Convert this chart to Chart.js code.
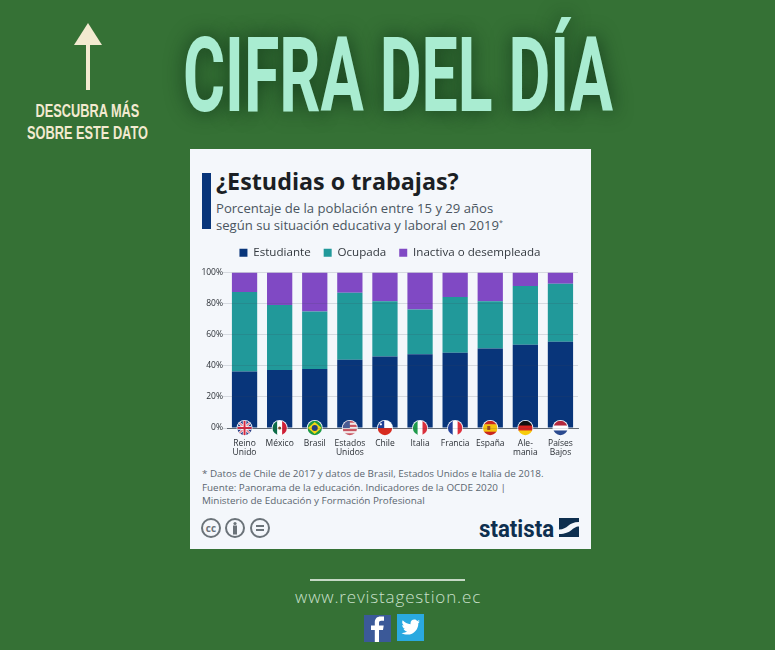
<!DOCTYPE html>
<html>
<head>
<meta charset="utf-8">
<title>Cifra del día</title>
<script src="https://cdn.jsdelivr.net/npm/chart.js"></script>
<style>
html, body { margin: 0; padding: 0; }
body { width: 775px; height: 650px; background: #357135; overflow: hidden; position: relative; font-family: "Open Sans", sans-serif; }
.t { position: absolute; white-space: nowrap; line-height: 1; }
.box { position: absolute; }
.fit { transform-origin: 0 0; }
#card { left: 190px; top: 149px; width: 401px; height: 400px; background: #f4f7fb; }
#big { left: 183px; top: 24px; font-family: Roboto, sans-serif; font-weight: 700; font-size: 104px; color: #a9ecd1; text-shadow: 0 0 26px rgba(10,40,20,.75); }
.more { font-family: "Liberation Sans", sans-serif; font-weight: 700; color: #f3ead0; font-size: 19px; line-height: 22px; text-align: center; }
#chart { position: absolute; left: 190px; top: 233px; }
.sub { left: 216px; font-size: 13.1px; color: #4a5560; }
.note { left: 202px; font-size: 9.85px; color: #5b6670; }
</style>
</head>
<body>
<div class="box" id="card"></div>

<svg class="box" style="left:60px;top:15px" width="60" height="80">
  <polygon points="28,8 42,30 14,30" fill="#f3ead0"/>
  <rect x="26" y="30" width="4" height="45" fill="#f3ead0"/>
</svg>
<div class="t more fit" data-w="121" style="left:27px;top:100px">DESCUBRA MÁS<br>SOBRE ESTE DATO</div>
<div class="t fit" data-w="430" id="big">CIFRA DEL DÍA</div>

<div class="box" style="left:202px;top:173px;width:9px;height:56px;background:#08357a"></div>
<div class="t" style="left:216px;top:170px;font-size:23.3px;font-weight:700;color:#1b1f24">¿Estudias o trabajas?</div>
<div class="t sub" style="top:202px">Porcentaje de la población entre 15 y 29 años</div>
<div class="t sub" style="top:219px">según su situación educativa y laboral en 2019<sup style="font-size:7px;line-height:0">*</sup></div>

<canvas id="chart" width="400" height="229"></canvas>

<div class="t note" style="top:468.600px">* Datos de Chile de 2017 y datos de Brasil, Estados Unidos e Italia de 2018.</div>
<div class="t note" style="top:482.500px">Fuente: Panorama de la educación. Indicadores de la OCDE 2020 |</div>
<div class="t note" style="top:496px">Ministerio de Educación y Formación Profesional</div>

<svg class="box" style="left:200px;top:517px" width="72" height="22" fill="none" stroke="#6b7379" stroke-width="2">
  <circle cx="11" cy="11" r="9"/>
  <text x="11" y="14.5" font-size="10" font-weight="700" text-anchor="middle" fill="#6b7379" stroke="none" font-family="Open Sans">cc</text>
  <circle cx="35" cy="11" r="9"/>
  <circle cx="35" cy="6.5" r="1.6" fill="#6b7379" stroke="none"/>
  <rect x="33" y="8.5" width="4" height="9" fill="#6b7379" stroke="none"/>
  <circle cx="60" cy="11" r="9"/>
  <path d="M56 9h8M56 13h8"/>
</svg>

<div class="t fit" data-w="75" style="left:479px;top:517px;font-family:Roboto,sans-serif;font-weight:700;font-size:24px;color:#0e2f4f">statista</div>
<svg class="box" style="left:559px;top:518px" width="20" height="19">
  <rect width="20" height="19" fill="#0e2f4f"/>
  <path d="M0 11.500C9 11.500 9 4 20 4V8.500C13 8.500 13 16 0 16z" fill="#f4f7fb"/>
</svg>

<div class="box" style="left:310px;top:579px;width:155px;height:2px;background:#c5d9c5"></div>
<div class="t" style="left:295px;top:588px;font-size:17px;font-weight:300;letter-spacing:.85px;color:#c9e0cb">www.revistagestion.ec</div>
<svg class="box" style="left:364px;top:615px" width="27" height="27">
  <rect width="27" height="27" fill="#3b5998"/>
  <path d="M15 27V15h4l.7-4.5H15V8c0-1.4.6-2.2 2.3-2.2H20V1.6C19 1.5 17.8 1.4 16.5 1.4 13 1.4 10.8 3.5 10.8 7.4v3.1H7V15h3.8v12z" fill="#fff"/>
</svg>
<svg class="box" style="left:397px;top:614px" width="27" height="27">
  <rect width="27" height="27" fill="#2aa9e0"/>
  <path d="M23 7.500c-.7.3-1.400.5-2.200.6.8-.5 1.400-1.200 1.700-2.100-.7.4-1.600.8-2.400.9C19.400 6.100 18.400 5.600 17.300 5.600c-2.100 0-3.800 1.700-3.800 3.800 0 .3 0 .6.100.9C10.400 10.100 7.600 8.600 5.700 6.300c-.3.600-.5 1.200-.5 1.900 0 1.300.7 2.500 1.700 3.200-.6 0-1.200-.2-1.700-.5v.1c0 1.800 1.300 3.400 3 3.700-.3.100-.7.100-1 .1-.2 0-.5 0-.7-.1.500 1.500 1.900 2.600 3.600 2.600-1.300 1-3 1.700-4.700 1.700-.3 0-.6 0-.9-.1 1.700 1.100 3.700 1.700 5.900 1.700 7 0 10.900-5.800 10.900-10.900v-.5c.7-.5 1.300-1.200 1.700-1.900z" fill="#fff"/>
</svg>

<script>
var paises = [['Reino', 'Unido'], 'México', 'Brasil', ['Estados', 'Unidos'], 'Chile', 'Italia', 'Francia', 'España', ['Ale-', 'mania'], ['Países', 'Bajos']];
var estudiante = [36.3, 37.4, 38, 43.9, 46, 47.5, 48.4, 51.2, 53.5, 55.5];
var ocupada = [51.2, 41.7, 37, 43.1, 35.5, 28.8, 35.9, 30.3, 37.9, 37.4];
var inactiva = [12.5, 20.9, 25, 13, 18.5, 23.7, 15.7, 18.5, 8.6, 7.1];
var banderas = ['uk', 'mx', 'br', 'us', 'cl', 'it', 'fr', 'es', 'de', 'nl'];

// condensed display text: no condensed font installed, so squeeze to the measured width
document.querySelectorAll('.fit').forEach(function(el) {
    el.style.transform = 'scaleX(' + (el.dataset.w / el.offsetWidth) + ')';
});

function franjasV(c, x, y, r, cols) {
    var w = 2 * r / cols.length;
    cols.forEach(function(col, i) { c.fillStyle = col; c.fillRect(x - r + i * w, y - r, w + .5, 2 * r); });
}
function franjasH(c, x, y, r, cols) {
    var h = 2 * r / cols.length;
    cols.forEach(function(col, i) { c.fillStyle = col; c.fillRect(x - r, y - r + i * h, 2 * r, h + .5); });
}
function dibujaBandera(c, tipo, x, y, r) {
    if (tipo == 'uk') {
        c.fillStyle = '#2b3f86'; c.fillRect(x - r, y - r, 2 * r, 2 * r);
        c.strokeStyle = '#fff'; c.lineWidth = 2.4;
        c.beginPath(); c.moveTo(x - r, y - r); c.lineTo(x + r, y + r); c.moveTo(x + r, y - r); c.lineTo(x - r, y + r); c.stroke();
        c.strokeStyle = '#d5293f'; c.lineWidth = 1;
        c.stroke();
        c.strokeStyle = '#fff'; c.lineWidth = 3.6;
        c.beginPath(); c.moveTo(x, y - r); c.lineTo(x, y + r); c.moveTo(x - r, y); c.lineTo(x + r, y); c.stroke();
        c.strokeStyle = '#d5293f'; c.lineWidth = 2;
        c.stroke();
    } else if (tipo == 'mx') {
        franjasV(c, x, y, r, ['#0c6b48', '#fff', '#ce1f36']);
        c.fillStyle = '#7a4a20'; c.beginPath(); c.arc(x, y, 1.5, 0, 7); c.fill();
    } else if (tipo == 'br') {
        c.fillStyle = '#1c9a43'; c.fillRect(x - r, y - r, 2 * r, 2 * r);
        c.fillStyle = '#f5d617'; c.beginPath(); c.moveTo(x - r + .5, y); c.lineTo(x, y - r + 1.5); c.lineTo(x + r - .5, y); c.lineTo(x, y + r - 1.5); c.fill();
        c.fillStyle = '#24407f'; c.beginPath(); c.arc(x, y, 3, 0, 7); c.fill();
    } else if (tipo == 'us') {
        franjasH(c, x, y, r, ['#c7535f', '#f2e6e6', '#c7535f', '#f2e6e6', '#c7535f', '#f2e6e6', '#c7535f']);
        c.fillStyle = '#4a5c94'; c.fillRect(x - r, y - r, r, r);
    } else if (tipo == 'cl') {
        franjasH(c, x, y, r, ['#fff', '#d72b1f']);
        c.fillStyle = '#1f3f94'; c.fillRect(x - r, y - r, r * .9, r);
        c.fillStyle = '#fff'; c.beginPath(); c.arc(x - r * .55, y - r * .5, 1.1, 0, 7); c.fill();
    } else if (tipo == 'it') {
        franjasV(c, x, y, r, ['#1f9a4c', '#fff', '#d9303c']);
    } else if (tipo == 'fr') {
        franjasV(c, x, y, r, ['#22409a', '#fff', '#e0303c']);
    } else if (tipo == 'es') {
        franjasH(c, x, y, r, ['#c8281e', '#f4c20d', '#f4c20d', '#c8281e']);
        c.fillStyle = '#9c4a20'; c.fillRect(x - 3, y - 2, 3, 4);
    } else if (tipo == 'de') {
        franjasH(c, x, y, r, ['#111', '#d8231f', '#f7cc0b']);
    } else if (tipo == 'nl') {
        franjasH(c, x, y, r, ['#b3283d', '#fff', '#2a4a8f']);
    }
}

var pluginBanderas = {
    id: 'banderas',
    afterDatasetsDraw: function(chart) {
        var c = chart.ctx;
        var y0 = chart.scales.y.getPixelForValue(0);
        banderas.forEach(function(tipo, i) {
            var x = chart.scales.x.getPixelForValue(i);
            c.save();
            c.beginPath(); c.arc(x, y0, 8, 0, Math.PI * 2); c.fillStyle = '#f4f7fb'; c.fill();
            c.beginPath(); c.arc(x, y0, 7.2, 0, Math.PI * 2); c.clip();
            dibujaBandera(c, tipo, x, y0, 7.4);
            c.restore();
        });
    }
};

// extra room under the legend without widening the gaps between its items,
// and centre it on the card rather than on the padded chart
var pluginLeyenda = {
    id: 'leyendaAlta',
    beforeLayout: function(chart) {
        if (chart.legend.fitOriginal) return;
        chart.legend.fitOriginal = chart.legend.fit;
        chart.legend.fit = function() {
            this.fitOriginal();
            this.height += 5;
        };
    },
    afterLayout: function(chart) {
        chart.legend.left += 6;
        chart.legend.right += 6;
        chart.legend.top += 1;
    }
};

var chart = new Chart(document.getElementById('chart').getContext('2d'), {
    type: 'bar',
    plugins: [pluginBanderas, pluginLeyenda],
    data: {
        labels: paises,
        datasets: [
            { label: 'Estudiante', data: estudiante, backgroundColor: '#08357a' },
            { label: 'Ocupada', data: ocupada, backgroundColor: '#21999a' },
            { label: 'Inactiva o desempleada', data: inactiva, backgroundColor: '#8049c4' }
        ]
    },
    options: {
        responsive: false,
        devicePixelRatio: 1,
        animation: false,
        layout: { padding: { right: 12 } },
        datasets: { bar: { barPercentage: 0.72, categoryPercentage: 1 } },
        plugins: {
            tooltip: { enabled: false },
            legend: {
                position: 'top',
                onClick: null,
                labels: {
                    boxWidth: 8, boxHeight: 8, padding: 13, color: '#33393f',
                    font: { family: 'Open Sans', size: 11.6 }
                }
            }
        },
        scales: {
            x: {
                stacked: true,
                afterFit: function(s) { s.height = 34; },
                grid: { display: false, drawTicks: false },
                border: { color: '#6b7379' },
                ticks: {
                    autoSkip: false, maxRotation: 0, padding: 11, color: '#2b3036',
                    font: { family: 'Open Sans', size: 8.5, lineHeight: 1.08 }
                }
            },
            y: {
                stacked: true,
                min: 0, max: 100,
                afterFit: function(s) { s.width = 37; },
                grid: { color: 'rgba(60,70,90,.16)', z: 1, tickLength: 4 },
                border: { display: false },
                ticks: {
                    stepSize: 20, padding: 0, color: '#2b3036',
                    font: { family: 'Open Sans', size: 8.5 },
                    callback: function(v) { return v + '%'; }
                }
            }
        }
    }
});
</script>
</body>
</html>
